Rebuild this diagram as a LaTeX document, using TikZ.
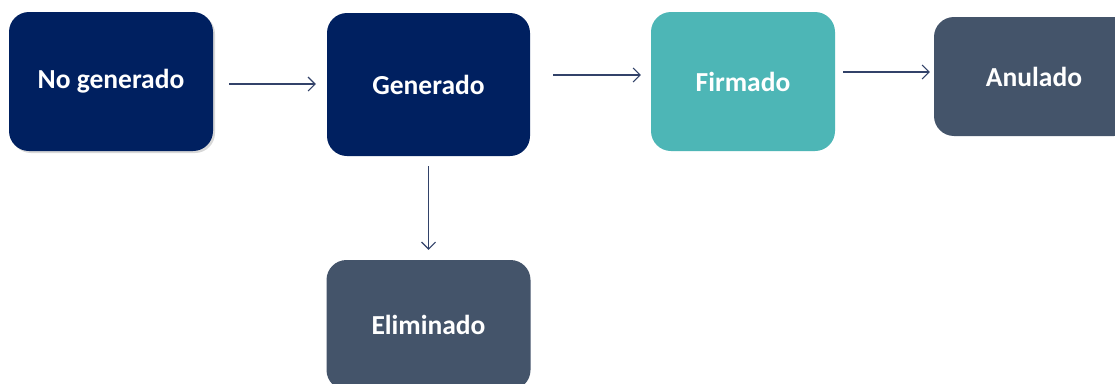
\documentclass[tikz,border=0pt]{standalone}
\usepackage{fontspec}
\setmainfont{Carlito}
\usetikzlibrary{arrows.meta,shadows}
\definecolor{navy}{RGB}{0,32,96}
\definecolor{firmteal}{RGB}{77,182,182}
\definecolor{slate}{RGB}{68,84,106}
\definecolor{arrowc}{RGB}{50,66,105}
\begin{document}
\begin{tikzpicture}[x=1pt, y=-1pt, font=\bfseries\fontsize{27.5}{32}\selectfont]
\tikzstyle{state}=[rounded corners=20pt, text=white, inner sep=0pt]
\tikzstyle{dark}=[state, fill=navy]
\tikzstyle{signed}=[state, fill=firmteal]
\tikzstyle{closed}=[state, fill=slate]
\tikzstyle{arr}=[draw=arrowc, line width=1.1pt, -{Straight Barb[length=7pt,width=14pt]}]
\clip (0,0) rectangle (1115,383);
\fill[white] (0,0) rectangle (1115,383);
\node[dark, minimum width=204pt, minimum height=139pt, drop shadow={shadow xshift=2pt, shadow yshift=-2pt, opacity=0.3}] (nogen) at (111,81.5) {No generado};
\node[dark, minimum width=203pt, minimum height=143pt] (gen) at (428.5,84.5) {Generado};
\node[signed, minimum width=184pt, minimum height=139pt] (firm) at (743,81.5) {Firmado};
\node[closed, minimum width=200pt, minimum height=119pt] (anul) at (1034,76.5) {Anulado};
\node[closed, minimum width=204pt, minimum height=130pt] (elim) at (428.5,325) {Eliminado};
\draw[arr] ([yshift=-2.5pt, xshift=16pt]nogen.east) -- ([yshift=0.5pt, xshift=-11pt]gen.west);
\draw[arr] ([yshift=9.5pt, xshift=23pt]gen.east) -- ([yshift=6.5pt, xshift=-10pt]firm.west);
\draw[arr] ([yshift=9.5pt, xshift=8pt]firm.east) -- ([yshift=4.5pt, xshift=-4pt]anul.west);
\draw[arr] ([yshift=-10pt]gen.south) -- ([yshift=10pt]elim.north);
\end{tikzpicture}
\end{document}
